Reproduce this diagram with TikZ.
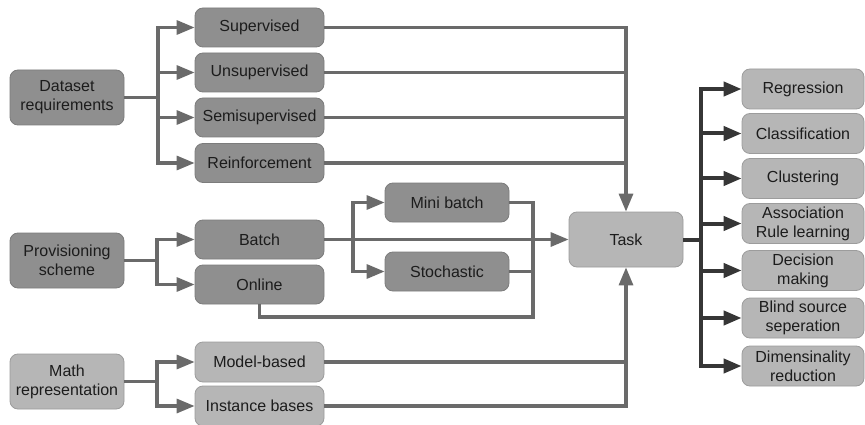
\documentclass[tikz,border=0pt]{standalone}
\usepackage{fontspec}
\setmainfont{Liberation Sans}
\usetikzlibrary{arrows.meta}
\definecolor{darkbox}{HTML}{8F8F8F}
\definecolor{darkedge}{HTML}{7C7C7C}
\definecolor{lightbox}{HTML}{B6B6B6}
\definecolor{lightedge}{HTML}{9C9C9C}
\definecolor{wire}{HTML}{6A6A6A}
\definecolor{darkwire}{HTML}{363636}
\definecolor{ink}{HTML}{1C1C1C}
\tikzset{
  box/.style={rounded corners=8pt, line width=0.8pt, align=center,
    text=ink, inner sep=0pt,
    font=\fontsize{16}{19}\selectfont},
  dbox/.style={box, fill=darkbox, draw=darkedge},
  lbox/.style={box, fill=lightbox, draw=lightedge},
  wline/.style={draw=wire, line width=3.2pt},
  warr/.style={wline, -{Triangle[length=18pt,width=14pt]}},
  dline/.style={draw=darkwire, line width=4pt},
  darr/.style={dline, -{Triangle[length=18pt,width=14pt]}},
}
\begin{document}
\begin{tikzpicture}[x=1pt,y=-1pt]
\fill[white] (0,0) rectangle (865,425);
\useasboundingbox (0,0) rectangle (865,425);

% source groups
\node[dbox, minimum width=114pt, minimum height=55pt] (ds) at (67,97.5) {Dataset\\requirements};
\node[dbox, minimum width=114pt, minimum height=55pt] (prov) at (67,260.5) {Provisioning\\scheme};
\node[lbox, minimum width=114pt, minimum height=55pt] (math) at (67,381.5) {Math\\representation};

% learning types
\node[dbox, minimum width=129pt, minimum height=39pt] (sup) at (259.5,27.5) {Supervised};
\node[dbox, minimum width=129pt, minimum height=39pt] (uns) at (259.5,72.5) {Unsupervised};
\node[dbox, minimum width=129pt, minimum height=39pt] (semi) at (259.5,117.5) {Semisupervised};
\node[dbox, minimum width=129pt, minimum height=39pt] (rein) at (259.5,163) {Reinforcement};

% provisioning
\node[dbox, minimum width=129pt, minimum height=39pt] (batch) at (259.5,239.5) {Batch};
\node[dbox, minimum width=129pt, minimum height=39pt] (online) at (259.5,284.5) {Online};
\node[dbox, minimum width=124pt, minimum height=39pt] (mini) at (447,202.5) {Mini batch};
\node[dbox, minimum width=124pt, minimum height=39pt] (stoch) at (447,271.5) {Stochastic};

% representation
\node[lbox, minimum width=129pt, minimum height=40pt] (model) at (259.5,362) {Model-based};
\node[lbox, minimum width=129pt, minimum height=40pt] (inst) at (259.5,406) {Instance bases};

% task
\node[lbox, minimum width=114pt, minimum height=55pt] (task) at (626,239.5) {Task};

% task kinds
\node[lbox, minimum width=122pt, minimum height=40pt] (reg) at (803,89) {Regression};
\node[lbox, minimum width=122pt, minimum height=40pt] (cls) at (803,133.5) {Classification};
\node[lbox, minimum width=122pt, minimum height=40pt] (clu) at (803,178.5) {Clustering};
\node[lbox, minimum width=122pt, minimum height=40pt] (asr) at (803,223.5) {Association\\Rule learning};
\node[lbox, minimum width=122pt, minimum height=40pt] (dec) at (803,270.5) {Decision\\making};
\node[lbox, minimum width=122pt, minimum height=40pt] (bss) at (803,318) {Blind source\\seperation};
\node[lbox, minimum width=122pt, minimum height=40pt] (dim) at (803,366) {Dimensinality\\reduction};

% junction points
\coordinate (dsj) at (158,97.5);
\coordinate (pj) at (157,260.5);
\coordinate (mj) at (157,381.5);
\coordinate (msj) at (353,239.5);
\coordinate (col) at (533,317);
\coordinate (tj) at (701,239.5);

% dataset branch
\draw[wline] (ds.east) -- (dsj);
\draw[warr] (dsj) |- (sup.west);
\draw[warr] (dsj) |- (uns.west);
\draw[warr] (dsj) |- (semi.west);
\draw[warr] (dsj) |- (rein.west);

% provisioning branch
\draw[wline] (prov.east) -- (pj);
\draw[warr] (pj) |- (batch.west);
\draw[warr] (pj) |- (online.west);

% representation branch
\draw[wline] (math.east) -- (mj);
\draw[warr] (mj) |- (model.west);
\draw[warr] (mj) |- (inst.west);

% learning types into task
\draw[warr] (sup.east) -| (task.north);
\draw[wline] (uns.east) -- (uns.east -| task.north);
\draw[wline] (semi.east) -- (semi.east -| task.north);
\draw[wline] (rein.east) -- (rein.east -| task.north);

% batch variants into task
\draw[warr] (batch.east) -- (task.west);
\draw[warr] (msj) |- (mini.west);
\draw[warr] (msj) |- (stoch.west);
\draw[wline] (mini.east) -| (col) -| (online.south);
\draw[wline] (stoch.east) -- (stoch.east -| col);

% representation into task
\draw[warr] (inst.east) -| (task.south);
\draw[wline] (model.east) -- (model.east -| task.south);

% task outputs
\draw[dline] (task.east) -- (tj);
\draw[darr] (tj) |- (reg.west);
\draw[darr] (tj) |- (cls.west);
\draw[darr] (tj) |- (clu.west);
\draw[darr] (tj) |- (asr.west);
\draw[darr] (tj) |- (dec.west);
\draw[darr] (tj) |- (bss.west);
\draw[darr] (tj) |- (dim.west);
\end{tikzpicture}
\end{document}
